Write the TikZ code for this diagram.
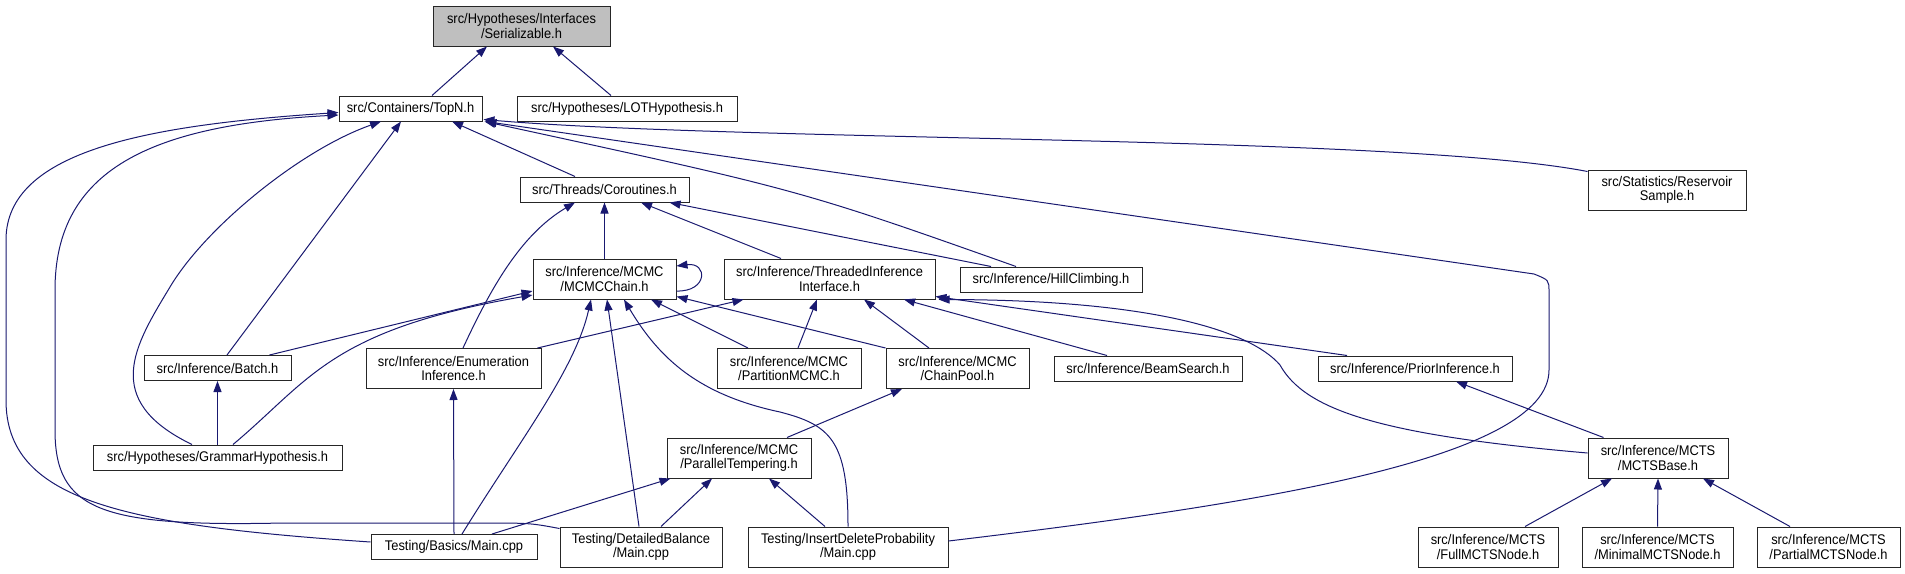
\documentclass[tikz,border=0pt]{standalone}
\usepackage{fontspec}
\setmainfont{Liberation Sans}[FakeStretch=0.92]
\usetikzlibrary{arrows.meta,calc}
\definecolor{edgeblue}{HTML}{191970}
\tikzset{
  box/.style={draw=black!85, line width=1pt, fill=white, inner sep=0pt, align=center,
    font=\fontsize{14}{14.5}\selectfont},
  onel/.style={box, minimum height=25pt},
  twol/.style={box, minimum height=40pt},
  edge/.style={draw=edgeblue, line width=1pt, -{Triangle[length=11pt,width=8pt]}},
}
\begin{document}
\begin{tikzpicture}[x=1pt,y=-1pt]
\fill[white] (0,0) rectangle (1905,573);
\useasboundingbox (0,0) rectangle (1905,573);
% nodes
\node[twol, minimum width=177pt, fill=black!25] (ser) at (521.5,26) {src/Hypotheses/Interfaces\\/Serializable.h};
\node[onel, minimum width=143pt] (topn) at (410.5,108.5) {src/Containers/TopN.h};
\node[onel, minimum width=220pt] (lot) at (627,108.5) {src/Hypotheses/LOTHypothesis.h};
\node[onel, minimum width=169pt] (cor) at (604.5,189.5) {src/Threads/Coroutines.h};
\node[twol, minimum width=158pt] (res) at (1667,190) {src/Statistics/Reservoir\\Sample.h};
\node[twol, minimum width=143pt] (mcmc) at (604.5,279) {src/Inference/MCMC\\/MCMCChain.h};
\node[twol, minimum width=211pt] (thr) at (829.5,279) {src/Inference/ThreadedInference\\Interface.h};
\node[onel, minimum width=182pt] (hill) at (1051,279.5) {src/Inference/HillClimbing.h};
\node[onel, minimum width=147pt] (batch) at (217.5,368) {src/Inference/Batch.h};
\node[twol, minimum width=175pt] (enum) at (453.5,368.5) {src/Inference/Enumeration\\Inference.h};
\node[twol, minimum width=144pt] (part) at (789,368.5) {src/Inference/MCMC\\/PartitionMCMC.h};
\node[twol, minimum width=143pt] (pool) at (957.5,368.5) {src/Inference/MCMC\\/ChainPool.h};
\node[onel, minimum width=188pt] (beam) at (1148,368.5) {src/Inference/BeamSearch.h};
\node[onel, minimum width=194pt] (prior) at (1415,368.5) {src/Inference/PriorInference.h};
\node[onel, minimum width=249pt] (gram) at (217.5,457.5) {src/Hypotheses/GrammarHypothesis.h};
\node[twol, minimum width=144pt] (ptemp) at (739,458) {src/Inference/MCMC\\/ParallelTempering.h};
\node[twol, minimum width=140pt] (mcts) at (1658,458) {src/Inference/MCTS\\/MCTSBase.h};
\node[onel, minimum width=166pt] (basics) at (454,547) {Testing/Basics/Main.cpp};
\node[twol, minimum width=162pt] (db) at (641,547) {Testing/DetailedBalance\\/Main.cpp};
\node[twol, minimum width=200pt] (ins) at (848,547) {Testing/InsertDeleteProbability\\/Main.cpp};
\node[twol, minimum width=140pt] (full) at (1488,547) {src/Inference/MCTS\\/FullMCTSNode.h};
\node[twol, minimum width=151pt] (minn) at (1657.5,547) {src/Inference/MCTS\\/MinimalMCTSNode.h};
\node[twol, minimum width=143pt] (partial) at (1828.5,547) {src/Inference/MCTS\\/PartialMCTSNode.h};
% edges
\draw[edge] ($(topn.north)+(21.5,0)$) -- ($(ser.south)+(-34.5,0)$);
\draw[edge] ($(lot.north)+(-16,0)$) -- ($(ser.south)+(31.5,0)$);
\draw[edge] ($(cor.north)+(-29.5,0)$) -- ($(topn.south)+(41.5,0)$);
\draw[edge] ($(res.north west)+(0,2)$) .. controls (1400,135) and (750,142) .. ($(topn.south east)+(1,-2)$);
\draw[edge] ($(hill.north)+(-35,0)$) .. controls (800,190) .. ($(topn.south east)+(2,0)$);
\draw[edge] ($(ins.east)+(0,-6)$) .. controls (1250,505) and (1549,460) .. (1549,370) -- (1549,292) .. controls (1549,280) .. (1534,274) -- ($(topn.south east)+(3,0)$);
\draw[edge] ($(batch.north)+(9.5,0)$) -- ($(topn.south)+(-9.5,0)$);
\draw[edge] ($(gram.north)+(-25.5,0)$) .. controls (100,400) and (135,345) .. (170,287) .. controls (205,228) and (300,150) .. ($(topn.south)+(-29.5,0)$);
\draw[edge] ($(basics.west)+(0,-5)$) .. controls (120,525) and (6,500) .. (6,400) -- (6,240) .. controls (6,150) and (150,125) .. ($(topn.west)+(0,4)$);
\draw[edge] ($(db.north west)+(0,2)$) .. controls (530,523) .. (480,523) -- (283,523) .. controls (100,527) and (55,510) .. (55,430) -- (55,290) .. controls (55,170) and (150,125) .. ($(topn.west)+(0,6.5)$);
\draw[edge] (mcmc.north) -- (cor.south);
\draw[edge] ($(enum.north)+(9.5,0)$) .. controls (490,290) and (520,235) .. ($(cor.south)+(-29.5,0)$);
\draw[edge] ($(thr.north)+(-48.5,0)$) -- ($(cor.south)+(36.5,0)$);
\draw[edge] ($(hill.north)+(-60,0)$) -- ($(cor.south east)+(-20,0)$);
\draw[edge] ($(mcmc.east)+(0,12)$) .. controls (708,292) and (708,262) .. ($(mcmc.east)+(0,-13)$);
\draw[edge] ($(batch.north east)+(-22,0)$) -- ($(mcmc.west)+(0,12)$);
\draw[edge] ($(gram.north)+(15.5,0)$) .. controls (310,380) and (330,330) .. ($(mcmc.west)+(0,16)$);
\draw[edge] ($(enum.north east)+(-4,0)$) -- ($(thr.south west)+(20,0)$);
\draw[edge] ($(basics.north)+(8,0)$) .. controls (520,440) and (575,370) .. ($(mcmc.south)+(-13.5,0)$);
\draw[edge] ($(db.north)+(-2,0)$) -- ($(mcmc.south)+(2.5,0)$);
\draw[edge] (ins.north) .. controls (848,440) and (830,425) .. (780,412) .. controls (700,395) and (660,360) .. ($(mcmc.south)+(19.5,0)$);
\draw[edge] ($(part.north)+(-41,0)$) -- ($(mcmc.south)+(46.5,0)$);
\draw[edge] (pool.north west) -- ($(mcmc.south east)+(0,-3)$);
\draw[edge] ($(part.north)+(9,0)$) -- ($(thr.south)+(-12.5,0)$);
\draw[edge] ($(pool.north)+(-28.5,0)$) -- ($(thr.south)+(34.5,0)$);
\draw[edge] ($(beam.north)+(-41,0)$) -- ($(thr.south)+(74.5,0)$);
\draw[edge] ($(prior.north)+(-68,0)$) -- ($(thr.south east)+(0,-3)$);
\draw[edge] ($(mcts.west)+(0,-5)$) .. controls (1380,435) and (1305,410) .. (1280,365) .. controls (1250,330) and (1150,300) .. ($(thr.south east)+(3,0)$);
\draw[edge] ($(mcts.north west)+(16,0)$) -- ($(prior.south)+(41,0)$);
\draw[edge] ($(ptemp.north)+(48,0)$) -- ($(pool.south)+(-55.5,0)$);
\draw[edge] ($(basics.north)+(38,0)$) -- ($(ptemp.south west)+(4,0)$);
\draw[edge] ($(db.north)+(20,0)$) -- ($(ptemp.south)+(-27,0)$);
\draw[edge] ($(ins.north)+(-23,0)$) -- ($(ptemp.south)+(30,0)$);
\draw[edge] (basics.north) -- (enum.south);
\draw[edge] (gram.north) -- (batch.south);
\draw[edge] ($(full.north)+(37,0)$) -- ($(mcts.south)+(-46,0)$);
\draw[edge] (minn.north) -- (mcts.south);
\draw[edge] ($(partial.north)+(-38.5,0)$) -- ($(mcts.south)+(45,0)$);
\end{tikzpicture}
\end{document}
